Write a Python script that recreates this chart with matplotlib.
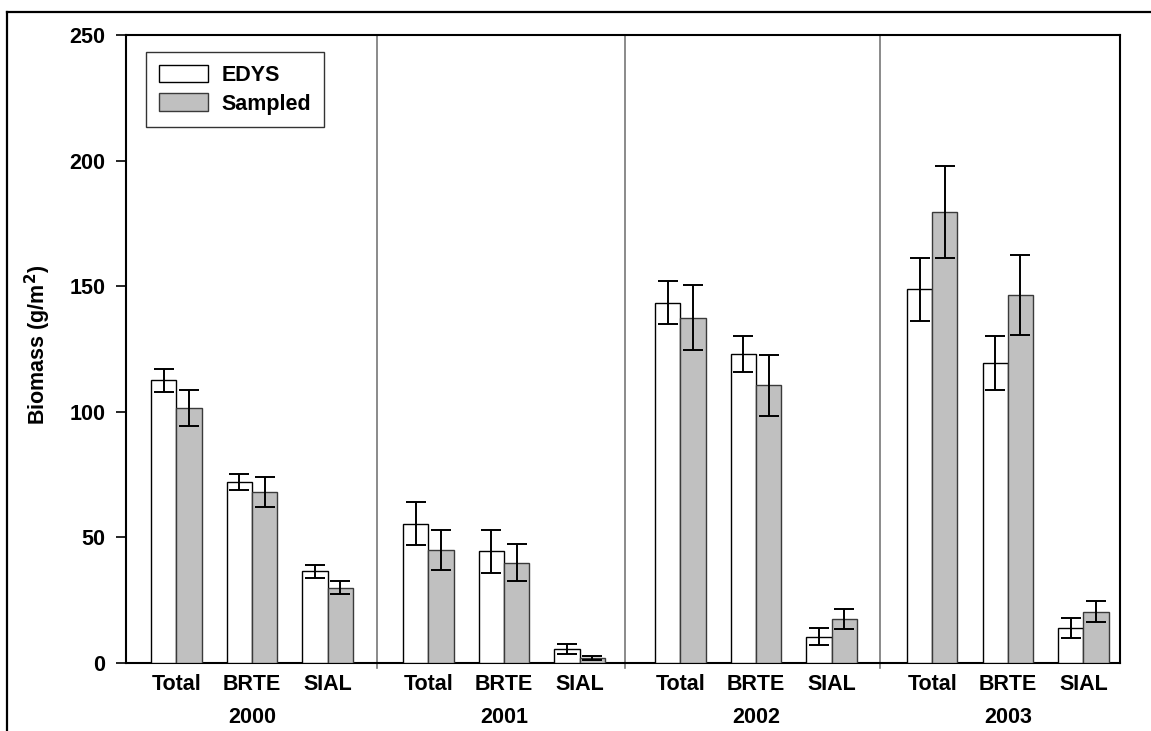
import matplotlib
matplotlib.use("Agg")
import matplotlib.pyplot as plt
import numpy as np
from matplotlib.lines import Line2D

plt.rcParams["font.family"] = ["Liberation Sans", "DejaVu Sans"]
plt.rcParams["font.weight"] = "bold"
plt.rcParams["mathtext.default"] = "bf"
FS = 15.5

# ---- data ----
years = ["2000", "2001", "2002", "2003"]
parts = ["Total", "BRTE", "SIAL"]
edys = [112.5, 72.0, 36.5,
        55.5, 44.5, 5.5,
        143.5, 123.0, 10.5,
        148.7, 119.5, 14.0]
edys_err = [4.5, 3.2, 2.5,
            8.5, 8.5, 2.0,
            8.5, 7.0, 3.5,
            12.7, 10.8, 4.0]
sampled = [101.5, 68.0, 30.0,
           45.0, 40.0, 2.0,
           137.5, 110.5, 17.5,
           179.4, 146.6, 20.5]
sampled_err = [7.0, 6.0, 2.5,
               8.0, 7.5, 0.7,
               13.0, 12.0, 4.0,
               18.3, 16.0, 4.0]

# bar layout: each year block is 10 bar widths
n_g, n_p = len(years), len(parts)
left = np.array([g * 10 + 1 + 3 * k for g in range(n_g) for k in range(n_p)], float)
seps = [9.96, 19.8, 29.92]

fig = plt.figure(figsize=(11.51, 7.31), dpi=100)
ax = fig.add_axes([126 / 1151, 1 - 663 / 731, (1120 - 126) / 1151, (663 - 35) / 731])

ekw = dict(ecolor="black", elinewidth=1.4, capsize=7, capthick=1.4)
ax.bar(left, edys, width=1, align="edge", color="white", edgecolor="black",
       linewidth=1.0, label="EDYS", zorder=3)
ax.bar(left + 1, sampled, width=1, align="edge", color="#c0c0c0", edgecolor="#3a3a3a",
       linewidth=1.0, label="Sampled", zorder=3)
ax.errorbar(left + 0.5, edys, yerr=edys_err, fmt="none", zorder=4, **ekw)
ax.errorbar(left + 1.5, sampled, yerr=sampled_err, fmt="none", zorder=4, **ekw)

for s in seps:
    ax.plot([s, s], [-2, 250], color="#777777", lw=1.2, clip_on=False, zorder=2)

ax.set_xlim(0, 39.45)
ax.set_ylim(0, 250)
ax.set_yticks([0, 50, 100, 150, 200, 250])
ax.tick_params(axis="y", direction="out", length=7, width=1.2, pad=8, labelsize=FS)
ax.set_xticks([])
for lab in ax.get_yticklabels():
    lab.set_fontweight("bold")
for sp in ax.spines.values():
    sp.set_linewidth(1.5)
    sp.set_color("black")

xt = ax.get_xaxis_transform()
for i, x in enumerate(left):
    ax.text(x + 1, -0.035, parts[i % n_p], transform=xt, ha="center", va="center",
            fontsize=FS, fontweight="bold")
for g, yr in enumerate(years):
    ax.text(g * 10 + 5, -0.087, yr, transform=xt, ha="center", va="center",
            fontsize=FS, fontweight="bold")

fig.text(38 / 1151, 1 - 345 / 731, "Biomass (g/m$^{2}$)", rotation=90, ha="center",
         va="center", fontsize=FS, fontweight="bold")

leg = ax.legend(loc="upper left", bbox_to_anchor=(20 / 994, 1 - 17 / 628), borderaxespad=0,
                fontsize=FS, frameon=True, fancybox=False, edgecolor="black",
                handlelength=2.3, handleheight=0.85, handletextpad=0.6, labelspacing=0.35,
                borderpad=0.6)
leg.get_frame().set_linewidth(1.0)
for t in leg.get_texts():
    t.set_fontweight("bold")

# outer frame of the original figure
fig.add_artist(Line2D([7 / 1151, 7 / 1151], [0, 1 - 12 / 731], color="black", lw=1.6))
fig.add_artist(Line2D([7 / 1151, 1], [1 - 12 / 731, 1 - 12 / 731], color="black", lw=1.6))

fig.savefig("out.png", dpi=100)
